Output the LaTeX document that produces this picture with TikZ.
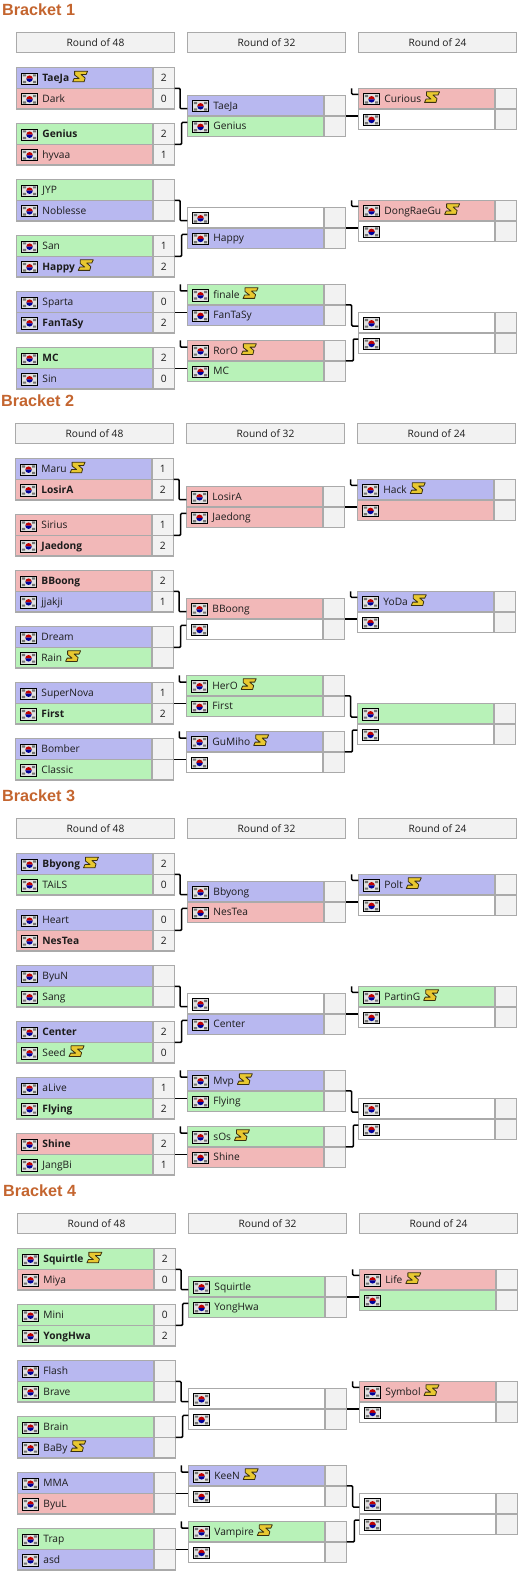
\documentclass[tikz,border=0pt]{standalone}
\usepackage{fontspec}
\usepackage{tikz}
\usepackage{xcolor}
\usetikzlibrary{positioning}
\setmainfont{Open Sans}
\newfontfamily\titlefont{Liberation Sans}

\definecolor{terran_blue}{HTML}{B8B8F0}
\definecolor{zerg_red}{HTML}{F2B8B8}
\definecolor{protoss_green}{HTML}{B8F2B8}
\definecolor{line_gray}{HTML}{AAAAAA}
\definecolor{head_gray}{HTML}{F2F2F2}
\definecolor{title_brown}{HTML}{C4652F}
\definecolor{text_dark}{HTML}{1C1C1C}
\definecolor{icon_gold}{HTML}{E8C830}
\definecolor{icon_edge}{HTML}{3A3010}

\newcommand{\flag}{\tikz[x=1pt, y=1pt, baseline=2.8pt]{
    \fill[black!12] (0, 0) rectangle (16.3, 11.2);
    \fill[black!55] (1.5, 7.8) rectangle (4.7, 10) (11.6, 7.8) rectangle (14.8, 10)
        (1.5, 1.2) rectangle (4.7, 3.4) (11.6, 1.2) rectangle (14.8, 3.4);
    \fill[red!75!black] (4.9, 5.6) arc (180:0:3.25);
    \fill[blue!60!black] (4.9, 5.6) arc (180:360:3.25);
    \draw[black, line width=0.8pt] (0, 0) rectangle (16.3, 11.2);
}\hspace{4.3pt}}
\newcommand{\sicon}{\hspace{3pt}\tikz[x=1pt, y=1pt, baseline=0pt]{
    \draw[fill=icon_gold, draw=icon_edge, line width=0.8pt, line join=round]
        (1.5, 10.3) -- (14.5, 10.3) -- (13, 7) -- (8, 7) -- (12, 3.5) -- (11, -0.3)
        -- (-0.5, -0.3) -- (1, 3) -- (6, 3) -- (1.5, 6.5) -- cycle;
}}

% one match: id, x, y, then colour, name and score of both players
\newcommand{\match}[9]{
    \node(#1_top)[player_row, fill=#4, anchor=north west] at (#2, #3) {\flag #5};
    \node(#1_top_score)[score_box, right=0pt of #1_top] {#6};
    \node(#1_bot)[player_row, fill=#7, below=0pt of #1_top] {\flag #8};
    \node(#1_bot_score)[score_box, right=0pt of #1_bot] {#9};
}
% the fourteen connectors of a bracket
\newcommand{\links}[1]{
    \draw[conn] (#1_m1_top_score.south east) -- ++(5.3, 0) |- ([yshift=-3pt]#1_m7_top.west);
    \draw[conn] (#1_m2_top_score.south east) -- ++(7, 0) |- ([yshift=3.8pt]#1_m7_bot.west);
    \draw[conn] (#1_m3_top_score.south east) -- ++(5.3, 0) |- ([yshift=-3pt]#1_m8_top.west);
    \draw[conn] (#1_m4_top_score.south east) -- ++(7, 0) |- ([yshift=3.8pt]#1_m8_bot.west);
    \draw[conn] (#1_m5_top_score.south east) -- (#1_m5_top_score.south east -| #1_m9_bot.west);
    \draw[conn] ([xshift=-7pt]#1_m9_top.north west) |- ([yshift=-6.7pt]#1_m9_top.north west);
    \draw[conn] (#1_m6_top_score.south east) -- (#1_m6_top_score.south east -| #1_m10_bot.west);
    \draw[conn] ([xshift=-7pt]#1_m10_top.north west) |- ([yshift=-6.7pt]#1_m10_top.north west);
    \draw[conn] (#1_m7_top_score.south east) -- (#1_m7_top_score.south east -| #1_m11_bot.west);
    \draw[conn] ([xshift=-6.6pt]#1_m11_top.north west) |- ([yshift=-6pt]#1_m11_top.north west);
    \draw[conn] (#1_m8_top_score.south east) -- (#1_m8_top_score.south east -| #1_m12_bot.west);
    \draw[conn] ([xshift=-6.6pt]#1_m12_top.north west) |- ([yshift=-6pt]#1_m12_top.north west);
    \draw[conn] (#1_m9_top_score.south east) -- ++(6, 0) |- ([yshift=-3.4pt]#1_m13_top.west);
    \draw[conn] (#1_m10_top_score.south east) -- ++(7.6, 0) |- ([yshift=4.2pt]#1_m13_bot.west);
}

\begin{document}
\begin{tikzpicture}[
    x=1pt, y=-1pt,
    player_row/.style={rectangle, align=left, draw=line_gray, line width=1.4pt, outer sep=0pt, text width=127.3pt, inner xsep=4.7pt, inner ysep=0pt, minimum height=20.6pt, text height=9.5pt, text depth=2.5pt, font=\fontsize{10.2}{12}\selectfont, text=text_dark},
    score_box/.style={rectangle, align=center, draw=line_gray, line width=1.4pt, fill=head_gray, outer sep=0pt, inner sep=0pt, minimum width=21.7pt, minimum height=20.6pt, text height=9.5pt, text depth=2.5pt, font=\fontsize{10.2}{12}\selectfont, text=text_dark},
    round_head/.style={rectangle, align=center, draw=line_gray, line width=1.1pt, fill=head_gray, outer sep=0pt, minimum width=158.4pt, minimum height=20pt, font=\fontsize{10.2}{12}\selectfont, text=text_dark},
    bracket_title/.style={anchor=west, inner sep=0pt, text=title_brown, font=\titlefont\bfseries\fontsize{16.2}{18}\selectfont},
    conn/.style={draw=black, line width=1.5pt, rounded corners=1pt},
]
    \useasboundingbox (0, 0) rectangle (523, 1578);

    \begin{scope}
        \node(b1_title)[bracket_title] at (2, 10) {Bracket 1};
        \node(b1_head48)[round_head, anchor=north west] at (16.3, 32.3) {Round of 48};
        \node(b1_head32)[round_head, anchor=north west] at (187.3, 32.3) {Round of 32};
        \node(b1_head24)[round_head, anchor=north west] at (358.3, 32.3) {Round of 24};
        \match{b1_m1}{16.3}{67.7}{terran_blue}{\textbf{TaeJa}\sicon}{2}{zerg_red}{Dark}{0}
        \match{b1_m2}{16.3}{123.7}{protoss_green}{\textbf{Genius}}{2}{zerg_red}{hyvaa}{1}
        \match{b1_m3}{16.3}{179.7}{protoss_green}{JYP}{}{terran_blue}{Noblesse}{}
        \match{b1_m4}{16.3}{235.7}{protoss_green}{San}{1}{terran_blue}{\textbf{Happy}\sicon}{2}
        \match{b1_m5}{16.3}{291.7}{terran_blue}{Sparta}{0}{terran_blue}{\textbf{FanTaSy}}{2}
        \match{b1_m6}{16.3}{347.7}{protoss_green}{\textbf{MC}}{2}{terran_blue}{Sin}{0}
        \match{b1_m7}{187.3}{95.3}{terran_blue}{TaeJa}{}{protoss_green}{Genius}{}
        \match{b1_m8}{187.3}{207.3}{white}{}{}{terran_blue}{Happy}{}
        \match{b1_m9}{187.3}{284.3}{protoss_green}{finale\sicon}{}{terran_blue}{FanTaSy}{}
        \match{b1_m10}{187.3}{340.3}{zerg_red}{RorO\sicon}{}{protoss_green}{MC}{}
        \match{b1_m11}{358.3}{88.3}{zerg_red}{Curious\sicon}{}{white}{}{}
        \match{b1_m12}{358.3}{200.3}{zerg_red}{DongRaeGu\sicon}{}{white}{}{}
        \match{b1_m13}{358.3}{312.3}{white}{}{}{white}{}{}
        \links{b1}
    \end{scope}

    \begin{scope}[shift={(-1, 391)}]
        \node(b2_title)[bracket_title] at (2, 10) {Bracket 2};
        \node(b2_head48)[round_head, anchor=north west] at (16.3, 32.3) {Round of 48};
        \node(b2_head32)[round_head, anchor=north west] at (187.3, 32.3) {Round of 32};
        \node(b2_head24)[round_head, anchor=north west] at (358.3, 32.3) {Round of 24};
        \match{b2_m1}{16.3}{67.7}{terran_blue}{Maru\sicon}{1}{zerg_red}{\textbf{LosirA}}{2}
        \match{b2_m2}{16.3}{123.7}{zerg_red}{Sirius}{1}{zerg_red}{\textbf{Jaedong}}{2}
        \match{b2_m3}{16.3}{179.7}{zerg_red}{\textbf{BBoong}}{2}{terran_blue}{jjakji}{1}
        \match{b2_m4}{16.3}{235.7}{terran_blue}{Dream}{}{protoss_green}{Rain\sicon}{}
        \match{b2_m5}{16.3}{291.7}{terran_blue}{SuperNova}{1}{protoss_green}{\textbf{First}}{2}
        \match{b2_m6}{16.3}{347.7}{terran_blue}{Bomber}{}{protoss_green}{Classic}{}
        \match{b2_m7}{187.3}{95.3}{zerg_red}{LosirA}{}{zerg_red}{Jaedong}{}
        \match{b2_m8}{187.3}{207.3}{zerg_red}{BBoong}{}{white}{}{}
        \match{b2_m9}{187.3}{284.3}{protoss_green}{HerO\sicon}{}{protoss_green}{First}{}
        \match{b2_m10}{187.3}{340.3}{terran_blue}{GuMiho\sicon}{}{white}{}{}
        \match{b2_m11}{358.3}{88.3}{terran_blue}{Hack\sicon}{}{zerg_red}{}{}
        \match{b2_m12}{358.3}{200.3}{terran_blue}{YoDa\sicon}{}{white}{}{}
        \match{b2_m13}{358.3}{312.3}{protoss_green}{}{}{white}{}{}
        \links{b2}
    \end{scope}

    \begin{scope}[shift={(0, 786)}]
        \node(b3_title)[bracket_title] at (2, 10) {Bracket 3};
        \node(b3_head48)[round_head, anchor=north west] at (16.3, 32.3) {Round of 48};
        \node(b3_head32)[round_head, anchor=north west] at (187.3, 32.3) {Round of 32};
        \node(b3_head24)[round_head, anchor=north west] at (358.3, 32.3) {Round of 24};
        \match{b3_m1}{16.3}{67.7}{terran_blue}{\textbf{Bbyong}\sicon}{2}{protoss_green}{TAiLS}{0}
        \match{b3_m2}{16.3}{123.7}{terran_blue}{Heart}{0}{zerg_red}{\textbf{NesTea}}{2}
        \match{b3_m3}{16.3}{179.7}{terran_blue}{ByuN}{}{protoss_green}{Sang}{}
        \match{b3_m4}{16.3}{235.7}{terran_blue}{\textbf{Center}}{2}{protoss_green}{Seed\sicon}{0}
        \match{b3_m5}{16.3}{291.7}{terran_blue}{aLive}{1}{protoss_green}{\textbf{Flying}}{2}
        \match{b3_m6}{16.3}{347.7}{zerg_red}{\textbf{Shine}}{2}{protoss_green}{JangBi}{1}
        \match{b3_m7}{187.3}{95.3}{terran_blue}{Bbyong}{}{zerg_red}{NesTea}{}
        \match{b3_m8}{187.3}{207.3}{white}{}{}{terran_blue}{Center}{}
        \match{b3_m9}{187.3}{284.3}{terran_blue}{Mvp\sicon}{}{protoss_green}{Flying}{}
        \match{b3_m10}{187.3}{340.3}{protoss_green}{sOs\sicon}{}{zerg_red}{Shine}{}
        \match{b3_m11}{358.3}{88.3}{terran_blue}{Polt\sicon}{}{white}{}{}
        \match{b3_m12}{358.3}{200.3}{protoss_green}{PartinG\sicon}{}{white}{}{}
        \match{b3_m13}{358.3}{312.3}{white}{}{}{white}{}{}
        \links{b3}
    \end{scope}

    \begin{scope}[shift={(1, 1181)}]
        \node(b4_title)[bracket_title] at (2, 10) {Bracket 4};
        \node(b4_head48)[round_head, anchor=north west] at (16.3, 32.3) {Round of 48};
        \node(b4_head32)[round_head, anchor=north west] at (187.3, 32.3) {Round of 32};
        \node(b4_head24)[round_head, anchor=north west] at (358.3, 32.3) {Round of 24};
        \match{b4_m1}{16.3}{67.7}{protoss_green}{\textbf{Squirtle}\sicon}{2}{zerg_red}{Miya}{0}
        \match{b4_m2}{16.3}{123.7}{protoss_green}{Mini}{0}{protoss_green}{\textbf{YongHwa}}{2}
        \match{b4_m3}{16.3}{179.7}{terran_blue}{Flash}{}{protoss_green}{Brave}{}
        \match{b4_m4}{16.3}{235.7}{protoss_green}{Brain}{}{terran_blue}{BaBy\sicon}{}
        \match{b4_m5}{16.3}{291.7}{terran_blue}{MMA}{}{zerg_red}{ByuL}{}
        \match{b4_m6}{16.3}{347.7}{protoss_green}{Trap}{}{terran_blue}{asd}{}
        \match{b4_m7}{187.3}{95.3}{protoss_green}{Squirtle}{}{protoss_green}{YongHwa}{}
        \match{b4_m8}{187.3}{207.3}{white}{}{}{white}{}{}
        \match{b4_m9}{187.3}{284.3}{terran_blue}{KeeN\sicon}{}{white}{}{}
        \match{b4_m10}{187.3}{340.3}{protoss_green}{Vampire\sicon}{}{white}{}{}
        \match{b4_m11}{358.3}{88.3}{zerg_red}{Life\sicon}{}{protoss_green}{}{}
        \match{b4_m12}{358.3}{200.3}{zerg_red}{Symbol\sicon}{}{white}{}{}
        \match{b4_m13}{358.3}{312.3}{white}{}{}{white}{}{}
        \links{b4}
    \end{scope}
\end{tikzpicture}
\end{document}
